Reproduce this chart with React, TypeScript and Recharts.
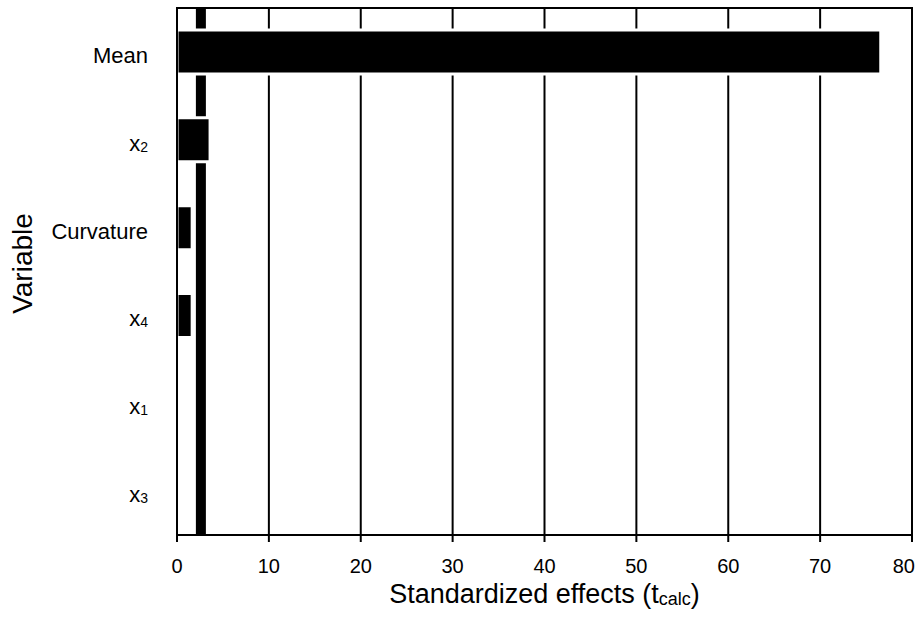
import React from "react";
import {
  BarChart,
  Bar,
  XAxis,
  YAxis,
  CartesianGrid,
  ReferenceLine,
  ReferenceArea,
} from "recharts";

// Pareto-style chart of standardized effects
const variables = ["Mean", "x2", "Curvature", "x4", "x1", "x3"];
const effects = [76.6, 3.6, 1.65, 1.65, 0, 0];
const xTicks = [0, 10, 20, 30, 40, 50, 60, 70, 80];
const tCritical = 2.6;

const data = variables.map((name, i) => ({ name, effect: effects[i] }));

const FONT = "'Liberation Sans', Arial, sans-serif";

function VariableTick(props: any) {
  const { x, y, payload } = props;
  const label: string = payload.value;
  const m = label.match(/^x(\d)$/);
  if (m) {
    return (
      <text x={x - 1} y={y + 11} textAnchor="end" fontFamily={FONT} fill="#000">
        <tspan fontSize={22}>x</tspan>
        <tspan fontSize={14} dy={1}>
          {m[1]}
        </tspan>
      </text>
    );
  }
  return (
    <text
      x={x - 1}
      y={y + 11}
      textAnchor="end"
      fontFamily={FONT}
      fontSize={22}
      fill="#000"
    >
      {label}
    </text>
  );
}

function EffectTick(props: any) {
  const { x, y, payload } = props;
  const last = payload.value === xTicks[xTicks.length - 1];
  return (
    <text
      x={last ? x + 3 : x}
      y={y + 14}
      textAnchor={last ? "end" : "middle"}
      fontFamily={FONT}
      fontSize={20}
      fill="#000"
    >
      {payload.value}
    </text>
  );
}

function XTitle(props: any) {
  const { viewBox } = props;
  const cx = viewBox.x + viewBox.width / 2;
  return (
    <text
      x={cx}
      y={603}
      textAnchor="middle"
      fontFamily={FONT}
      fontSize={27}
      fill="#000"
    >
      Standardized effects (t
      <tspan fontSize={18} dy={2}>
        calc
      </tspan>
      <tspan dy={-2}>)</tspan>
    </text>
  );
}

function YTitle(props: any) {
  const { viewBox } = props;
  const cy = viewBox.y + viewBox.height / 2 - 8;
  return (
    <text
      x={32}
      y={cy}
      transform={`rotate(-90 32 ${cy})`}
      textAnchor="middle"
      fontFamily={FONT}
      fontSize={28}
      fill="#000"
    >
      Variable
    </text>
  );
}

export default function App() {
  return (
    <div style={{ position: "absolute", left: 0, top: 0, background: "#fff" }}>
      <BarChart
        width={918}
        height={619}
        data={data}
        layout="vertical"
        margin={{ top: 8, right: 6, bottom: 0, left: 0 }}
        barCategoryGap={0}
      >
        <CartesianGrid
          horizontal={false}
          stroke="#000"
          strokeWidth={2}
          strokeOpacity={1}
        />
        <XAxis
          type="number"
          domain={[0, 80]}
          ticks={xTicks}
          interval={0}
          axisLine={{ stroke: "#000", strokeWidth: 2 }}
          tickLine={{ stroke: "#000", strokeWidth: 2 }}
          tickSize={7}
          tickMargin={17}
          tick={<EffectTick />}
          height={84}
          label={{ content: <XTitle /> }}
        />
        <YAxis
          type="category"
          dataKey="name"
          width={177}
          axisLine={{ stroke: "#000", strokeWidth: 2 }}
          tickLine={false}
          tickMargin={22}
          tick={<VariableTick />}
          label={{ content: <YTitle /> }}
        />
        <ReferenceArea
          x1={0}
          x2={80}
          fill="none"
          fillOpacity={0}
          stroke="#000"
          strokeWidth={2}
          strokeOpacity={1}
          ifOverflow="extendDomain"
        />
        <ReferenceLine
          x={tCritical}
          stroke="#000"
          strokeWidth={10}
          zIndex={-50}
        />
        <Bar
          dataKey="effect"
          fill="#000"
          stroke="#fff"
          strokeWidth={3}
          barSize={44}
          isAnimationActive={false}
        />
      </BarChart>
    </div>
  );
}
